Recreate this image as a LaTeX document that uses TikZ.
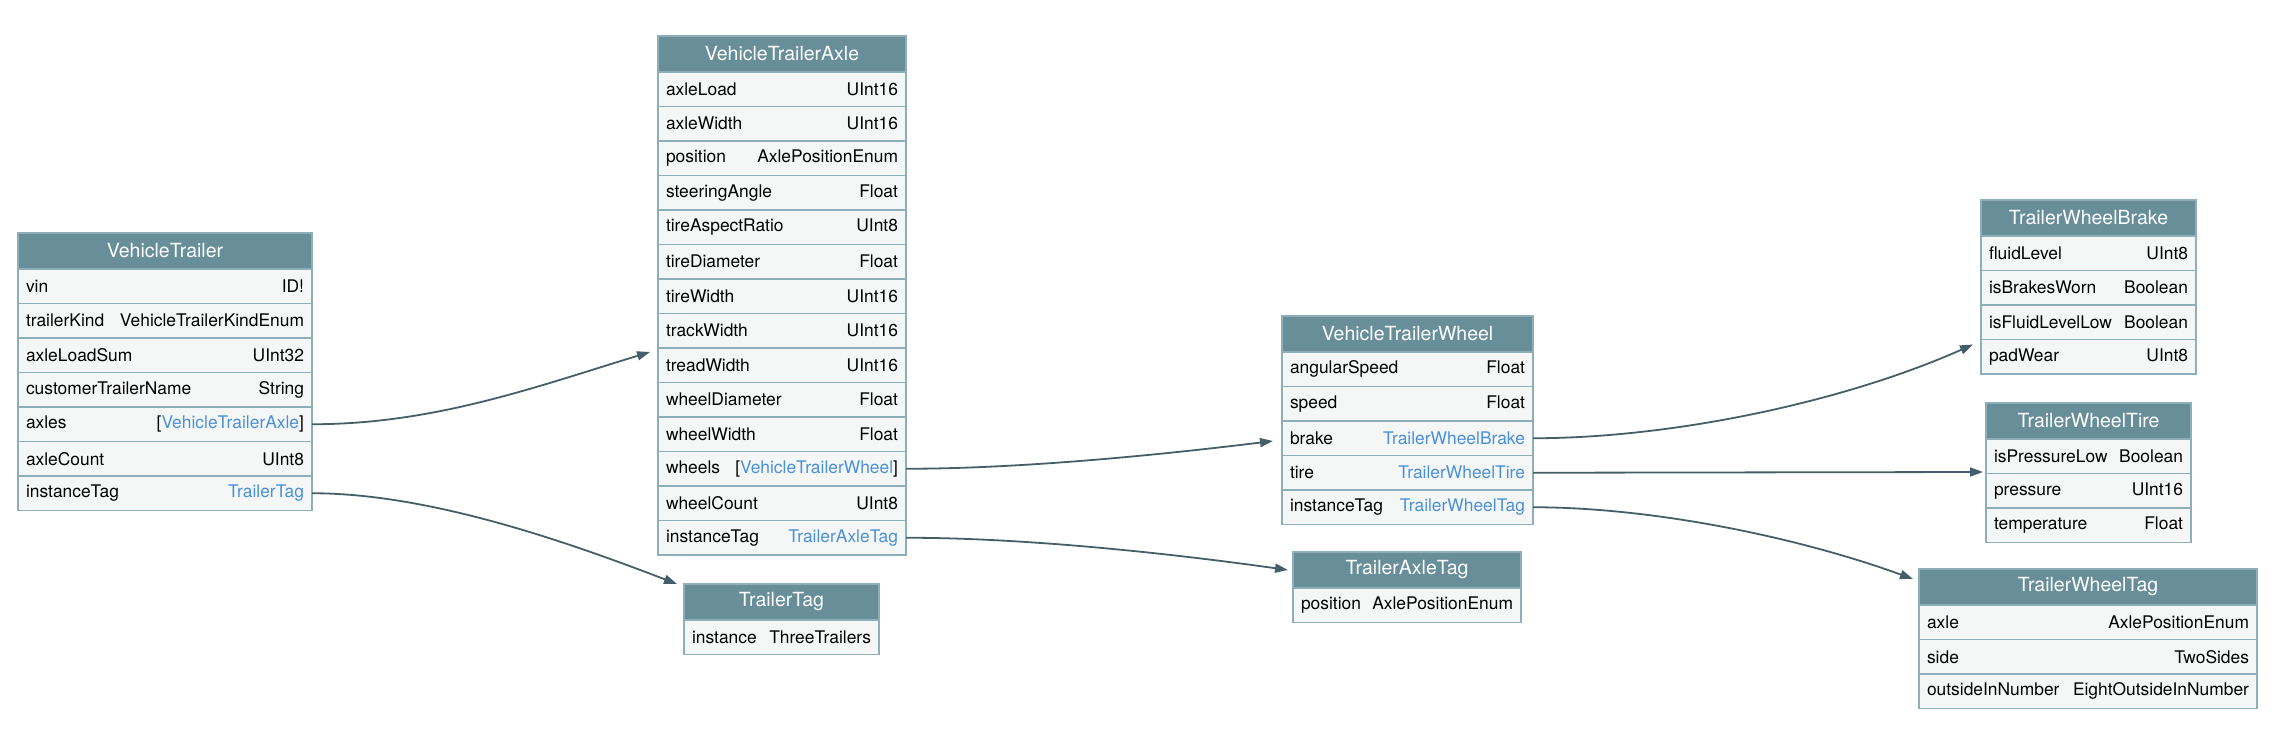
\documentclass[tikz,border=0pt]{standalone}
\usepackage{fontspec}
\setmainfont{TeX Gyre Heros}
\usetikzlibrary{arrows.meta,calc}
\definecolor{hdrcol}{HTML}{688E9A}
\definecolor{bordercol}{HTML}{8EAEBA}
\definecolor{rowcol}{HTML}{F5F7F7}
\definecolor{linkcol}{HTML}{4A90D9}
\definecolor{edgecol}{HTML}{455F69}
\newcommand\rw[3]{\hbox to \dimexpr#1pt-16pt\relax{#2\hfill#3}}
\newcommand\lnk[1]{\textcolor{linkcol}{#1}}
\tikzset{
  hdr/.style={draw=bordercol, fill=hdrcol, text=white, font=\fontsize{19.5}{20}\selectfont,
    anchor=north west, minimum height=36pt, inner sep=0pt, outer sep=0pt, line width=1.2pt, minimum width=#1pt},
  fld/.style={draw=bordercol, fill=rowcol, font=\fontsize{17.4}{18}\selectfont, text=black,
    anchor=north west, minimum height=34.5pt, inner xsep=8pt, inner ysep=0pt, outer sep=0pt, line width=1.2pt},
  edge/.style={draw=edgecol, line width=1.8pt, -{Triangle[length=13pt,width=9pt]}},
}
\begin{document}
\begin{tikzpicture}[x=1pt,y=-1pt]
\useasboundingbox (0,0) rectangle (2280,730);
% ---------------- VehicleTrailer
\node[hdr=294] (vt-h) at (18,233) {VehicleTrailer};
\node[fld] (vt-vin) at (vt-h.south west) {\rw{294}{vin}{ID!}};
\node[fld] (vt-trailerKind) at (vt-vin.south west) {\rw{294}{trailerKind}{VehicleTrailerKindEnum}};
\node[fld] (vt-axleLoadSum) at (vt-trailerKind.south west) {\rw{294}{axleLoadSum}{UInt32}};
\node[fld] (vt-customer) at (vt-axleLoadSum.south west) {\rw{294}{customerTrailerName}{String}};
\node[fld] (vt-axles) at (vt-customer.south west) {\rw{294}{axles}{[\lnk{VehicleTrailerAxle}]}};
\node[fld] (vt-axleCount) at (vt-axles.south west) {\rw{294}{axleCount}{UInt8}};
\node[fld] (vt-instanceTag) at (vt-axleCount.south west) {\rw{294}{instanceTag}{\lnk{TrailerTag}}};
% ---------------- VehicleTrailerAxle
\node[hdr=248] (vta-h) at (658,36) {VehicleTrailerAxle};
\node[fld] (vta-axleLoad) at (vta-h.south west) {\rw{248}{axleLoad}{UInt16}};
\node[fld] (vta-axleWidth) at (vta-axleLoad.south west) {\rw{248}{axleWidth}{UInt16}};
\node[fld] (vta-position) at (vta-axleWidth.south west) {\rw{248}{position}{AxlePositionEnum}};
\node[fld] (vta-steeringAngle) at (vta-position.south west) {\rw{248}{steeringAngle}{Float}};
\node[fld] (vta-tireAspectRatio) at (vta-steeringAngle.south west) {\rw{248}{tireAspectRatio}{UInt8}};
\node[fld] (vta-tireDiameter) at (vta-tireAspectRatio.south west) {\rw{248}{tireDiameter}{Float}};
\node[fld] (vta-tireWidth) at (vta-tireDiameter.south west) {\rw{248}{tireWidth}{UInt16}};
\node[fld] (vta-trackWidth) at (vta-tireWidth.south west) {\rw{248}{trackWidth}{UInt16}};
\node[fld] (vta-treadWidth) at (vta-trackWidth.south west) {\rw{248}{treadWidth}{UInt16}};
\node[fld] (vta-wheelDiameter) at (vta-treadWidth.south west) {\rw{248}{wheelDiameter}{Float}};
\node[fld] (vta-wheelWidth) at (vta-wheelDiameter.south west) {\rw{248}{wheelWidth}{Float}};
\node[fld] (vta-wheels) at (vta-wheelWidth.south west) {\rw{248}{wheels}{[\lnk{VehicleTrailerWheel}]}};
\node[fld] (vta-wheelCount) at (vta-wheels.south west) {\rw{248}{wheelCount}{UInt8}};
\node[fld] (vta-instanceTag) at (vta-wheelCount.south west) {\rw{248}{instanceTag}{\lnk{TrailerAxleTag}}};
% ---------------- TrailerTag
\node[hdr=195] (tt-h) at (684,584) {TrailerTag};
\node[fld] (tt-instance) at (tt-h.south west) {\rw{195}{instance}{ThreeTrailers}};
% ---------------- VehicleTrailerWheel
\node[hdr=251] (vtw-h) at (1282,316) {VehicleTrailerWheel};
\node[fld] (vtw-angularSpeed) at (vtw-h.south west) {\rw{251}{angularSpeed}{Float}};
\node[fld] (vtw-speed) at (vtw-angularSpeed.south west) {\rw{251}{speed}{Float}};
\node[fld] (vtw-brake) at (vtw-speed.south west) {\rw{251}{brake}{\lnk{TrailerWheelBrake}}};
\node[fld] (vtw-tire) at (vtw-brake.south west) {\rw{251}{tire}{\lnk{TrailerWheelTire}}};
\node[fld] (vtw-instanceTag) at (vtw-tire.south west) {\rw{251}{instanceTag}{\lnk{TrailerWheelTag}}};
% ---------------- TrailerAxleTag
\node[hdr=228] (tat-h) at (1293,552) {TrailerAxleTag};
\node[fld] (tat-position) at (tat-h.south west) {\rw{228}{position}{AxlePositionEnum}};
% ---------------- TrailerWheelBrake
\node[hdr=215] (twb-h) at (1981,200) {TrailerWheelBrake};
\node[fld] (twb-fluidLevel) at (twb-h.south west) {\rw{215}{fluidLevel}{UInt8}};
\node[fld] (twb-isBrakesWorn) at (twb-fluidLevel.south west) {\rw{215}{isBrakesWorn}{Boolean}};
\node[fld] (twb-isFluidLevelLow) at (twb-isBrakesWorn.south west) {\rw{215}{isFluidLevelLow}{Boolean}};
\node[fld] (twb-padWear) at (twb-isFluidLevelLow.south west) {\rw{215}{padWear}{UInt8}};
% ---------------- TrailerWheelTire
\node[hdr=205] (twt-h) at (1986,403) {TrailerWheelTire};
\node[fld] (twt-isPressureLow) at (twt-h.south west) {\rw{205}{isPressureLow}{Boolean}};
\node[fld] (twt-pressure) at (twt-isPressureLow.south west) {\rw{205}{pressure}{UInt16}};
\node[fld] (twt-temperature) at (twt-pressure.south west) {\rw{205}{temperature}{Float}};
% ---------------- TrailerWheelTag
\node[hdr=338] (twg-h) at (1919,569) {TrailerWheelTag};
\node[fld] (twg-axle) at (twg-h.south west) {\rw{338}{axle}{AxlePositionEnum}};
\node[fld] (twg-side) at (twg-axle.south west) {\rw{338}{side}{TwoSides}};
\node[fld] (twg-outsideInNumber) at (twg-side.south west) {\rw{338}{outsideInNumber}{EightOutsideInNumber}};
% ---------------- arrow end points
\coordinate (e-vta) at ($(vta-treadWidth.north west)+(-8,4)$);
\coordinate (e-tt) at ($(tt-h.north west)+(-7,0)$);
\coordinate (e-vtw) at ($(vtw-brake.north west)+(-9,20)$);
\coordinate (e-tat) at ($(tat-h.north west)+(-5,18)$);
\coordinate (e-twb) at ($(twb-padWear.north west)+(-8,5)$);
\coordinate (e-twt) at ($(twt-isPressureLow.north west)+(-3,33)$);
\coordinate (e-twg) at ($(twg-h.north west)+(-6,10)$);
% ---------------- edges
\draw[edge] (vt-axles.east) to[out=0,in=197,looseness=0.9] (e-vta);
\draw[edge] (vt-instanceTag.east) to[out=0,in=159,looseness=0.8] (e-tt);
\draw[edge] (vta-wheels.east) to[out=0,in=187,looseness=0.8] (e-vtw);
\draw[edge] (vta-instanceTag.east) to[out=0,in=172,looseness=0.8] (e-tat);
\draw[edge] (vtw-brake.east) to[out=0,in=204,looseness=0.8] (e-twb);
\draw[edge] (vtw-tire.east) -- (e-twt);
\draw[edge] (vtw-instanceTag.east) to[out=0,in=160,looseness=0.8] (e-twg);
\end{tikzpicture}
\end{document}
